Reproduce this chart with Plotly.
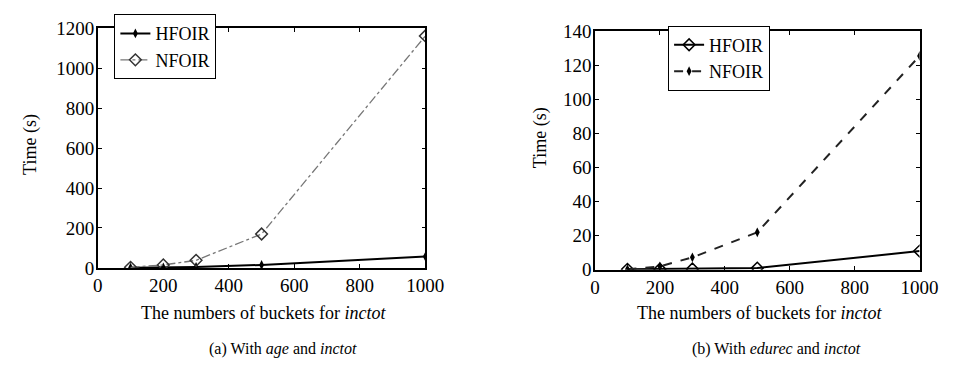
import plotly.graph_objects as go

buckets = [100, 200, 300, 500, 1000]
# (a) With age and inctot
a_hfoir = [1, 2, 5, 15, 57]
a_nfoir = [3, 15, 38, 170, 1162]
# (b) With edurec and inctot
b_hfoir = [0.3, 0.4, 0.5, 1.0, 11]
b_nfoir = [0.3, 2.0, 7.3, 22, 125.5]

a_yticks = [0, 200, 400, 600, 800, 1000, 1200]
b_yticks = [0, 20, 40, 60, 80, 100, 120, 140]
xticks = [0, 200, 400, 600, 800, 1000]

FONT = "Times New Roman, Liberation Serif, serif"

fig = go.Figure()

fig.add_trace(go.Scatter(x=buckets, y=a_hfoir, name="HFOIR", mode="lines+markers",
                         line=dict(color="black", width=2),
                         marker=dict(symbol="diamond-tall", size=7, color="black"),
                         xaxis="x", yaxis="y", legend="legend"))
fig.add_trace(go.Scatter(x=buckets, y=a_nfoir, name="NFOIR", mode="lines+markers",
                         line=dict(color="#777777", width=1.3, dash="dashdot"),
                         marker=dict(symbol="diamond-open", size=9, color="#333333",
                                     line=dict(width=1.5)),
                         xaxis="x", yaxis="y", legend="legend"))
fig.add_trace(go.Scatter(x=buckets, y=b_hfoir, name="HFOIR", mode="lines+markers",
                         line=dict(color="black", width=2),
                         marker=dict(symbol="diamond-open", size=9, color="black",
                                     line=dict(width=1.5)),
                         xaxis="x2", yaxis="y2", legend="legend2"))
fig.add_trace(go.Scatter(x=buckets, y=b_nfoir, name="NFOIR", mode="lines+markers",
                         line=dict(color="#222222", width=2, dash="dash"),
                         marker=dict(symbol="diamond-tall", size=7, color="black"),
                         xaxis="x2", yaxis="y2", legend="legend2"))

axis_common = dict(showgrid=False, zeroline=False, showline=True, mirror="ticks",
                   linecolor="black", linewidth=1.5, ticks="inside", ticklen=4,
                   tickcolor="black", tickfont=dict(family=FONT, size=19, color="black"))

fig.update_layout(
    width=954, height=369,
    margin=dict(l=0, r=0, t=0, b=0),
    paper_bgcolor="white", plot_bgcolor="white",
    font=dict(family=FONT, color="black"),
    showlegend=True,
    xaxis=dict(domain=[87/954, 423/954], range=[0, 1000], tickvals=xticks, anchor="y", **axis_common),
    yaxis=dict(domain=[1-265/369, 1-11/369], range=[0, 1200], tickvals=a_yticks, anchor="x",
               ticklabelstandoff=-2, **axis_common),
    xaxis2=dict(domain=[597/954, 930/954], range=[0, 1000], tickvals=xticks, anchor="y2", **axis_common),
    yaxis2=dict(domain=[1-267/369, 1-14/369], range=[0, 140], tickvals=b_yticks, anchor="x2",
                ticklabelstandoff=-2, **axis_common),
    legend=dict(x=104/954, y=1+4/369, xanchor="left", yanchor="top", bgcolor="white",
                bordercolor="black", borderwidth=1, font=dict(family=FONT, size=18),
                tracegroupgap=0, itemwidth=30),
    legend2=dict(x=672/954, y=1-8/369, xanchor="left", yanchor="top", bgcolor="white",
                 bordercolor="black", borderwidth=1, font=dict(family=FONT, size=18),
                 tracegroupgap=0, itemwidth=30),
)

ann_font = dict(family=FONT, size=18, color="black")
annotations = [
    dict(text="Time (s)", x=18, y=134, textangle=-90),
    dict(text="Time (s)", x=541, y=127, textangle=-90),
    dict(text="The numbers of buckets for <i>inctot</i>", x=257, y=313),
    dict(text="The numbers of buckets for <i>inctot</i>", x=766, y=313),
    dict(text="(a) With <i>age</i> and <i>inctot</i>", x=277, y=351, size=16),
    dict(text="(b) With <i>edurec</i> and <i>inctot</i>", x=783, y=351, size=16),
]
for a in annotations:
    f = dict(ann_font)
    if "size" in a:
        f["size"] = a.pop("size")
    fig.add_annotation(text=a["text"], x=a["x"]/954, y=1-a["y"]/369, xref="paper", yref="paper",
                       showarrow=False, textangle=a.get("textangle", 0), font=f,
                       xanchor="center", yanchor="middle")

fig.write_html("out.html")
